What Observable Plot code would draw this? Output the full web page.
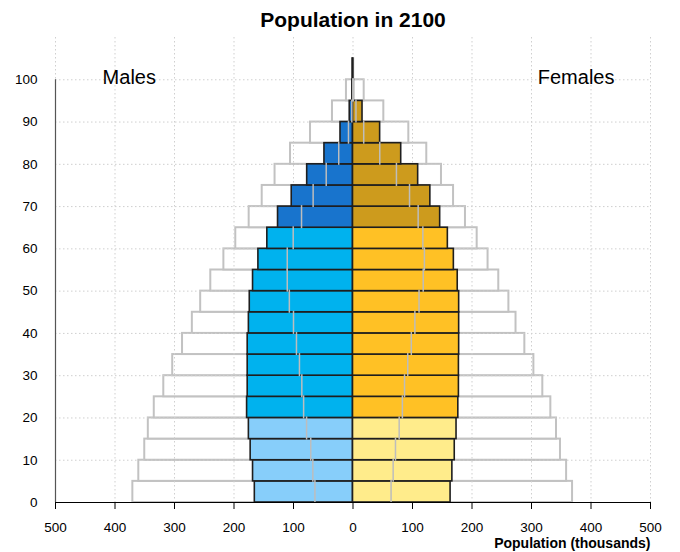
<!DOCTYPE html>
<html>
<head>
<meta charset="utf-8">
<script src="https://cdn.jsdelivr.net/npm/d3@7"></script>
<script src="https://cdn.jsdelivr.net/npm/@observablehq/plot@0.6"></script>
<style>
  html, body { margin: 0; padding: 0; background: white; }
</style>
</head>
<body>
<div id="chart"></div>
<script>
// Age group starts (5-year groups, last is 100+)
const ageStart = [0, 5, 10, 15, 20, 25, 30, 35, 40, 45, 50, 55, 60, 65, 70, 75, 80, 85, 90, 95, 100];

// Population in 2100 (thousands)
const male2100   = [165, 168, 172, 175, 178, 177, 177, 177, 175, 173.5, 168, 159, 144, 126, 103, 77, 48, 21, 5.5, 1, 0.3];
const female2100 = [164, 167, 171, 174, 177, 178, 178, 178.4, 178.4, 178.4, 176, 169.5, 159.4, 146.5, 130, 109.5, 81, 45.6, 16, 1.5, 0.4];

// Reference population (outline bars)
const maleRef   = [370, 360, 350, 344, 334, 318, 303, 286.5, 270, 256, 239, 217, 197, 174.5, 152.6, 131, 105, 71.4, 34.5, 11, 0.8];
const femaleRef = [369, 359, 348.7, 342, 332.5, 319, 304, 288.8, 274, 262, 245, 227, 208.7, 189, 169, 148.7, 124, 93.8, 51.8, 18.8, 1.2];

// Inner marker values (gray lines inside bars)
const maleMark   = [64, 67.5, 71, 78, 83, 86, 90, 95, 100, 107, 110.5, 110.5, 100.5, 86.5, 67, 45, 24, 7.6, 2, 0.3, 0];
const femaleMark = [64, 67.5, 71.4, 77.6, 83, 86.6, 92, 98, 104, 111, 118, 120, 117.4, 109.5, 95, 73, 45, 18, 5, 0.5, 0];

// Axis ticks
const xTicks = [-500, -400, -300, -200, -100, 0, 100, 200, 300, 400, 500];
const yTicks = [0, 10, 20, 30, 40, 50, 60, 70, 80, 90, 100];

const group = a => a < 20 ? 0 : a < 65 ? 1 : 2;
const rows = ageStart.map((a, i) => ({
  age: a,
  top: a + 5,
  male: male2100[i],
  female: female2100[i],
  maleRef: maleRef[i],
  femaleRef: femaleRef[i],
  maleMark: maleMark[i],
  femaleMark: femaleMark[i],
  mcat: "M" + group(a),
  fcat: "F" + group(a)
}));

const chart = Plot.plot({
  width: 680,
  height: 552,
  marginLeft: 55,
  marginRight: 30,
  marginTop: 37,
  marginBottom: 50,
  style: {fontFamily: "'Liberation Sans', Arial, sans-serif", fontSize: "13.5px", background: "white", color: "black", overflow: "visible"},
  x: {domain: [-500, 500], label: null},
  y: {domain: [0, 110], label: null},
  color: {
    domain: ["M0", "M1", "M2", "F0", "F1", "F2"],
    range: ["#87CEFA", "#00B2EE", "#1874CD", "#FFEC8B", "#FFC125", "#CD9B1D"]
  },
  marks: [
    // outline (reference) bars
    Plot.rect(rows, {x1: 0, x2: d => -d.maleRef, y1: "age", y2: "top", fill: "white", stroke: "#c2c2c2", strokeWidth: 2}),
    Plot.rect(rows, {x1: 0, x2: "femaleRef", y1: "age", y2: "top", fill: "white", stroke: "#c2c2c2", strokeWidth: 2}),
    // grid
    Plot.gridX(xTicks, {stroke: "#cfcfcf", strokeOpacity: 1, strokeWidth: 1, strokeDasharray: "1.5,2.5"}),
    Plot.gridY(yTicks.slice(1), {stroke: "#cfcfcf", strokeOpacity: 1, strokeWidth: 1, strokeDasharray: "1.5,2.5"}),
    // 2100 bars
    Plot.rect(rows, {x1: 0, x2: d => -d.male, y1: "age", y2: "top", fill: "mcat", stroke: "#1e1e1e", strokeWidth: 1.6}),
    Plot.rect(rows, {x1: 0, x2: "female", y1: "age", y2: "top", fill: "fcat", stroke: "#1e1e1e", strokeWidth: 1.6}),
    // inner gray markers
    Plot.ruleX(rows.filter(d => d.maleMark > 0), {x: d => -d.maleMark, y1: "age", y2: "top", stroke: "#bdbdbd", strokeWidth: 1.5, insetTop: 1, insetBottom: 1}),
    Plot.ruleX(rows.filter(d => d.femaleMark > 0), {x: "femaleMark", y1: "age", y2: "top", stroke: "#bdbdbd", strokeWidth: 1.5, insetTop: 1, insetBottom: 1}),
    // axes
    Plot.ruleX([-500], {y1: 0, y2: 100, stroke: "#555", strokeWidth: 1.2}),
    Plot.ruleY([0], {x1: -500, x2: 500, stroke: "black", strokeWidth: 1.2}),
    Plot.axisX(xTicks, {tickSize: 7, tickPadding: 13, tickFormat: d => Math.abs(d), label: null, fontSize: 13.5}),
    Plot.axisY(yTicks, {tickSize: 0, tickPadding: 18, label: null, fontSize: 13.5}),
    // annotations
    Plot.text(["Males"], {x: -376, y: 100.6, text: d => d, fontSize: 20, fill: "black"}),
    Plot.text(["Females"], {x: 375, y: 100.6, text: d => d, fontSize: 20, fill: "black"}),
    Plot.text(["Population in 2100"], {frameAnchor: "top", lineAnchor: "middle", dy: -17, text: d => d, fontSize: 21, fontWeight: "bold", fill: "black"}),
    Plot.text(["Population (thousands)"], {frameAnchor: "bottom-right", lineAnchor: "middle", textAnchor: "end", dy: 41, text: d => d, fontSize: 14, fontWeight: "bold", fill: "black"})
  ]
});

document.getElementById("chart").appendChild(chart);
</script>
</body>
</html>
